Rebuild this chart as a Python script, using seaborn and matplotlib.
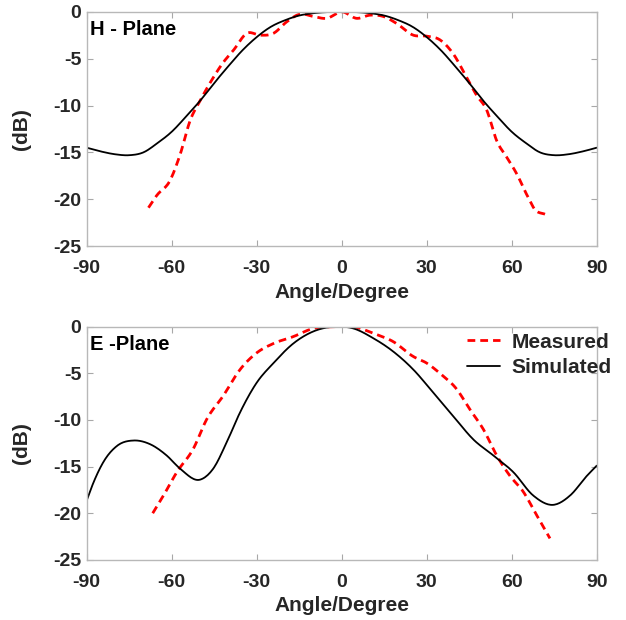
import numpy as np
import pandas as pd
import matplotlib
matplotlib.use('Agg')
import matplotlib.pyplot as plt
import seaborn as sns

#--------------------------------------------------
# H-plane, simulated
h_sim_ang = [-90, -85, -80, -75, -70, -65, -60, -55, -50, -45, -40, -35, -30,
             -25, -20, -15, -10, -5, 0, 5, 10, 15, 20, 25, 30, 35, 40, 45,
             50, 55, 60, 65, 70, 75, 80, 85, 90]
h_sim_db = [-14.5, -14.9, -15.2, -15.3, -15.0, -14.0, -12.8, -11.2, -9.5, -7.6,
            -5.8, -4.1, -2.7, -1.6, -0.9, -0.4, -0.15, -0.03, 0.0, -0.03,
            -0.15, -0.4, -0.9, -1.6, -2.7, -4.1, -5.8, -7.6, -9.5, -11.2,
            -12.8, -14.0, -15.0, -15.3, -15.2, -14.9, -14.5]

# H-plane, measured
h_meas_ang = [-68.2, -65.3, -60.6, -57.0, -53.5, -50.0, -45.9, -41.8, -38.2,
              -33.5, -28.8, -24.1, -19.4, -14.7, -10.0, -5.3, 0.0, 5.3, 10.0,
              14.7, 19.4, 25.3, 30.0, 34.7, 39.4, 44.1, 47.6, 51.2, 54.7,
              58.2, 61.8, 65.3, 68.2, 71.8]
h_meas_db = [-20.9, -19.6, -18.0, -15.2, -11.6, -9.5, -7.3, -5.4, -4.1, -2.3,
             -2.5, -2.3, -1.07, -0.25, -0.5, -0.7, 0.0, -0.7, -0.36, -0.5,
             -1.25, -2.5, -2.6, -3.0, -4.5, -7.0, -8.9, -10.5, -13.75, -15.5,
             -17.3, -19.5, -21.1, -21.6]

# E-plane, simulated
e_sim_ang = [-90.2, -87.6, -84.1, -79.4, -73.5, -67.6, -61.8, -57.1, -50.0,
             -45.3, -40.6, -35.9, -30.0, -24.1, -17.1, -10.0, -2.9, 4.1, 11.2,
             18.2, 25.3, 32.4, 39.4, 46.5, 53.5, 60.6, 67.6, 74.7, 80.6, 86.5,
             90.0]
e_sim_db = [-18.8, -16.7, -14.5, -12.8, -12.2, -12.6, -13.8, -15.2, -16.4,
            -15.2, -12.4, -9.2, -6.0, -3.9, -1.8, -0.5, 0.0, -0.18, -1.24,
            -2.66, -4.6, -7.1, -9.6, -12.1, -13.8, -15.6, -18.1, -19.1, -18.1,
            -16.0, -14.9]

# E-plane, measured
e_meas_ang = [-66.7, -62.9, -58.2, -52.4, -47.6, -41.8, -35.9, -30.0, -24.1,
              -17.1, -10.0, -2.9, 4.1, 11.2, 18.2, 25.3, 30.0, 34.7, 40.6,
              45.3, 50.0, 54.7, 59.4, 64.1, 68.8, 73.5]
e_meas_db = [-20.0, -18.1, -15.6, -13.1, -9.9, -7.4, -4.6, -2.8, -1.8, -1.06,
             -0.18, 0.0, 0.0, -0.7, -1.6, -3.2, -3.9, -5.0, -6.7, -8.9, -11.0,
             -13.8, -16.0, -17.7, -20.2, -22.7]

x_ticks = [-90, -60, -30, 0, 30, 60, 90]
y_ticks = [-25, -20, -15, -10, -5, 0]


#--------------------------------------------------
def smooth(ang, db, n=400):
    # piecewise cubic Hermite through the read points, for a smooth trace
    ang = np.asarray(ang, dtype=float)
    db = np.asarray(db, dtype=float)
    xs = np.linspace(ang[0], ang[-1], n)
    m = np.gradient(db, ang)
    idx = np.clip(np.searchsorted(ang, xs) - 1, 0, len(ang) - 2)
    h = ang[idx + 1] - ang[idx]
    t = (xs - ang[idx]) / h
    h00 = 2 * t**3 - 3 * t**2 + 1
    h10 = t**3 - 2 * t**2 + t
    h01 = -2 * t**3 + 3 * t**2
    h11 = t**3 - t**2
    ys = h00 * db[idx] + h10 * h * m[idx] + h01 * db[idx + 1] + h11 * h * m[idx + 1]
    return xs, ys


#--------------------------------------------------
def draw(ax, sim_ang, sim_db, meas_ang, meas_db, title, legend):
    xs, ys = smooth(meas_ang, meas_db)
    sns.lineplot(x=xs, y=ys, ax=ax, color='#ff0000', linewidth=2.0,
                 label='Measured', sort=False)
    ax.lines[-1].set_dashes([2.8, 1.8])
    xs, ys = smooth(sim_ang, sim_db)
    sns.lineplot(x=xs, y=ys, ax=ax, color='black', linewidth=1.3,
                 label='Simulated', sort=False)
    ax.set_xlim(-90, 90)
    ax.set_ylim(-25, 0)
    ax.set_xticks(x_ticks)
    ax.set_yticks(y_ticks)
    ax.tick_params(which='both', direction='in', length=4, width=0.8,
                   color='#a8a8a8', labelsize=14, labelcolor='#262626',
                   bottom=True, top=True, left=True, right=True)
    ax.tick_params(axis='x', pad=10)
    ax.tick_params(axis='y', pad=4)
    for lab in ax.get_xticklabels() + ax.get_yticklabels():
        lab.set_fontweight('bold')
    for sp in ax.spines.values():
        sp.set_color('#b8b8b8')
        sp.set_linewidth(1.0)
    ax.set_xlabel('Angle/Degree', fontsize=15, fontweight='bold',
                  color='#262626', labelpad=4)
    ax.set_ylabel('(dB)', fontsize=15, fontweight='bold',
                  color='#262626', labelpad=16)
    ax.text(0.006, 0.965, title, transform=ax.transAxes, fontsize=14.5,
            fontweight='bold', va='top', ha='left', color='black')
    if legend:
        leg = ax.legend(loc='upper right', bbox_to_anchor=(1.03, 0.975),
                        frameon=False, fontsize=15,
                        handlelength=1.6, borderaxespad=0.0,
                        labelspacing=0.32, handletextpad=0.55,
                        borderpad=0.0)
        for t in leg.get_texts():
            t.set_fontweight('bold')
    else:
        ax.get_legend().remove()


#--------------------------------------------------
def main():
    sns.set_style('white')
    plt.rcParams['font.family'] = ['Liberation Sans', 'DejaVu Sans']
    plt.rcParams['axes.unicode_minus'] = False
    fig = plt.figure(figsize=(6.26, 6.2), dpi=100)
    ax1 = fig.add_axes([0.1385, 0.603, 0.8147, 0.378])
    ax2 = fig.add_axes([0.1385, 0.097, 0.8147, 0.376])
    draw(ax1, h_sim_ang, h_sim_db, h_meas_ang, h_meas_db, 'H - Plane', False)
    draw(ax2, e_sim_ang, e_sim_db, e_meas_ang, e_meas_db, 'E -Plane', True)
    fig.savefig('out.png', dpi=100)


#--------------------------------------------------
if __name__ == '__main__':
    main()
